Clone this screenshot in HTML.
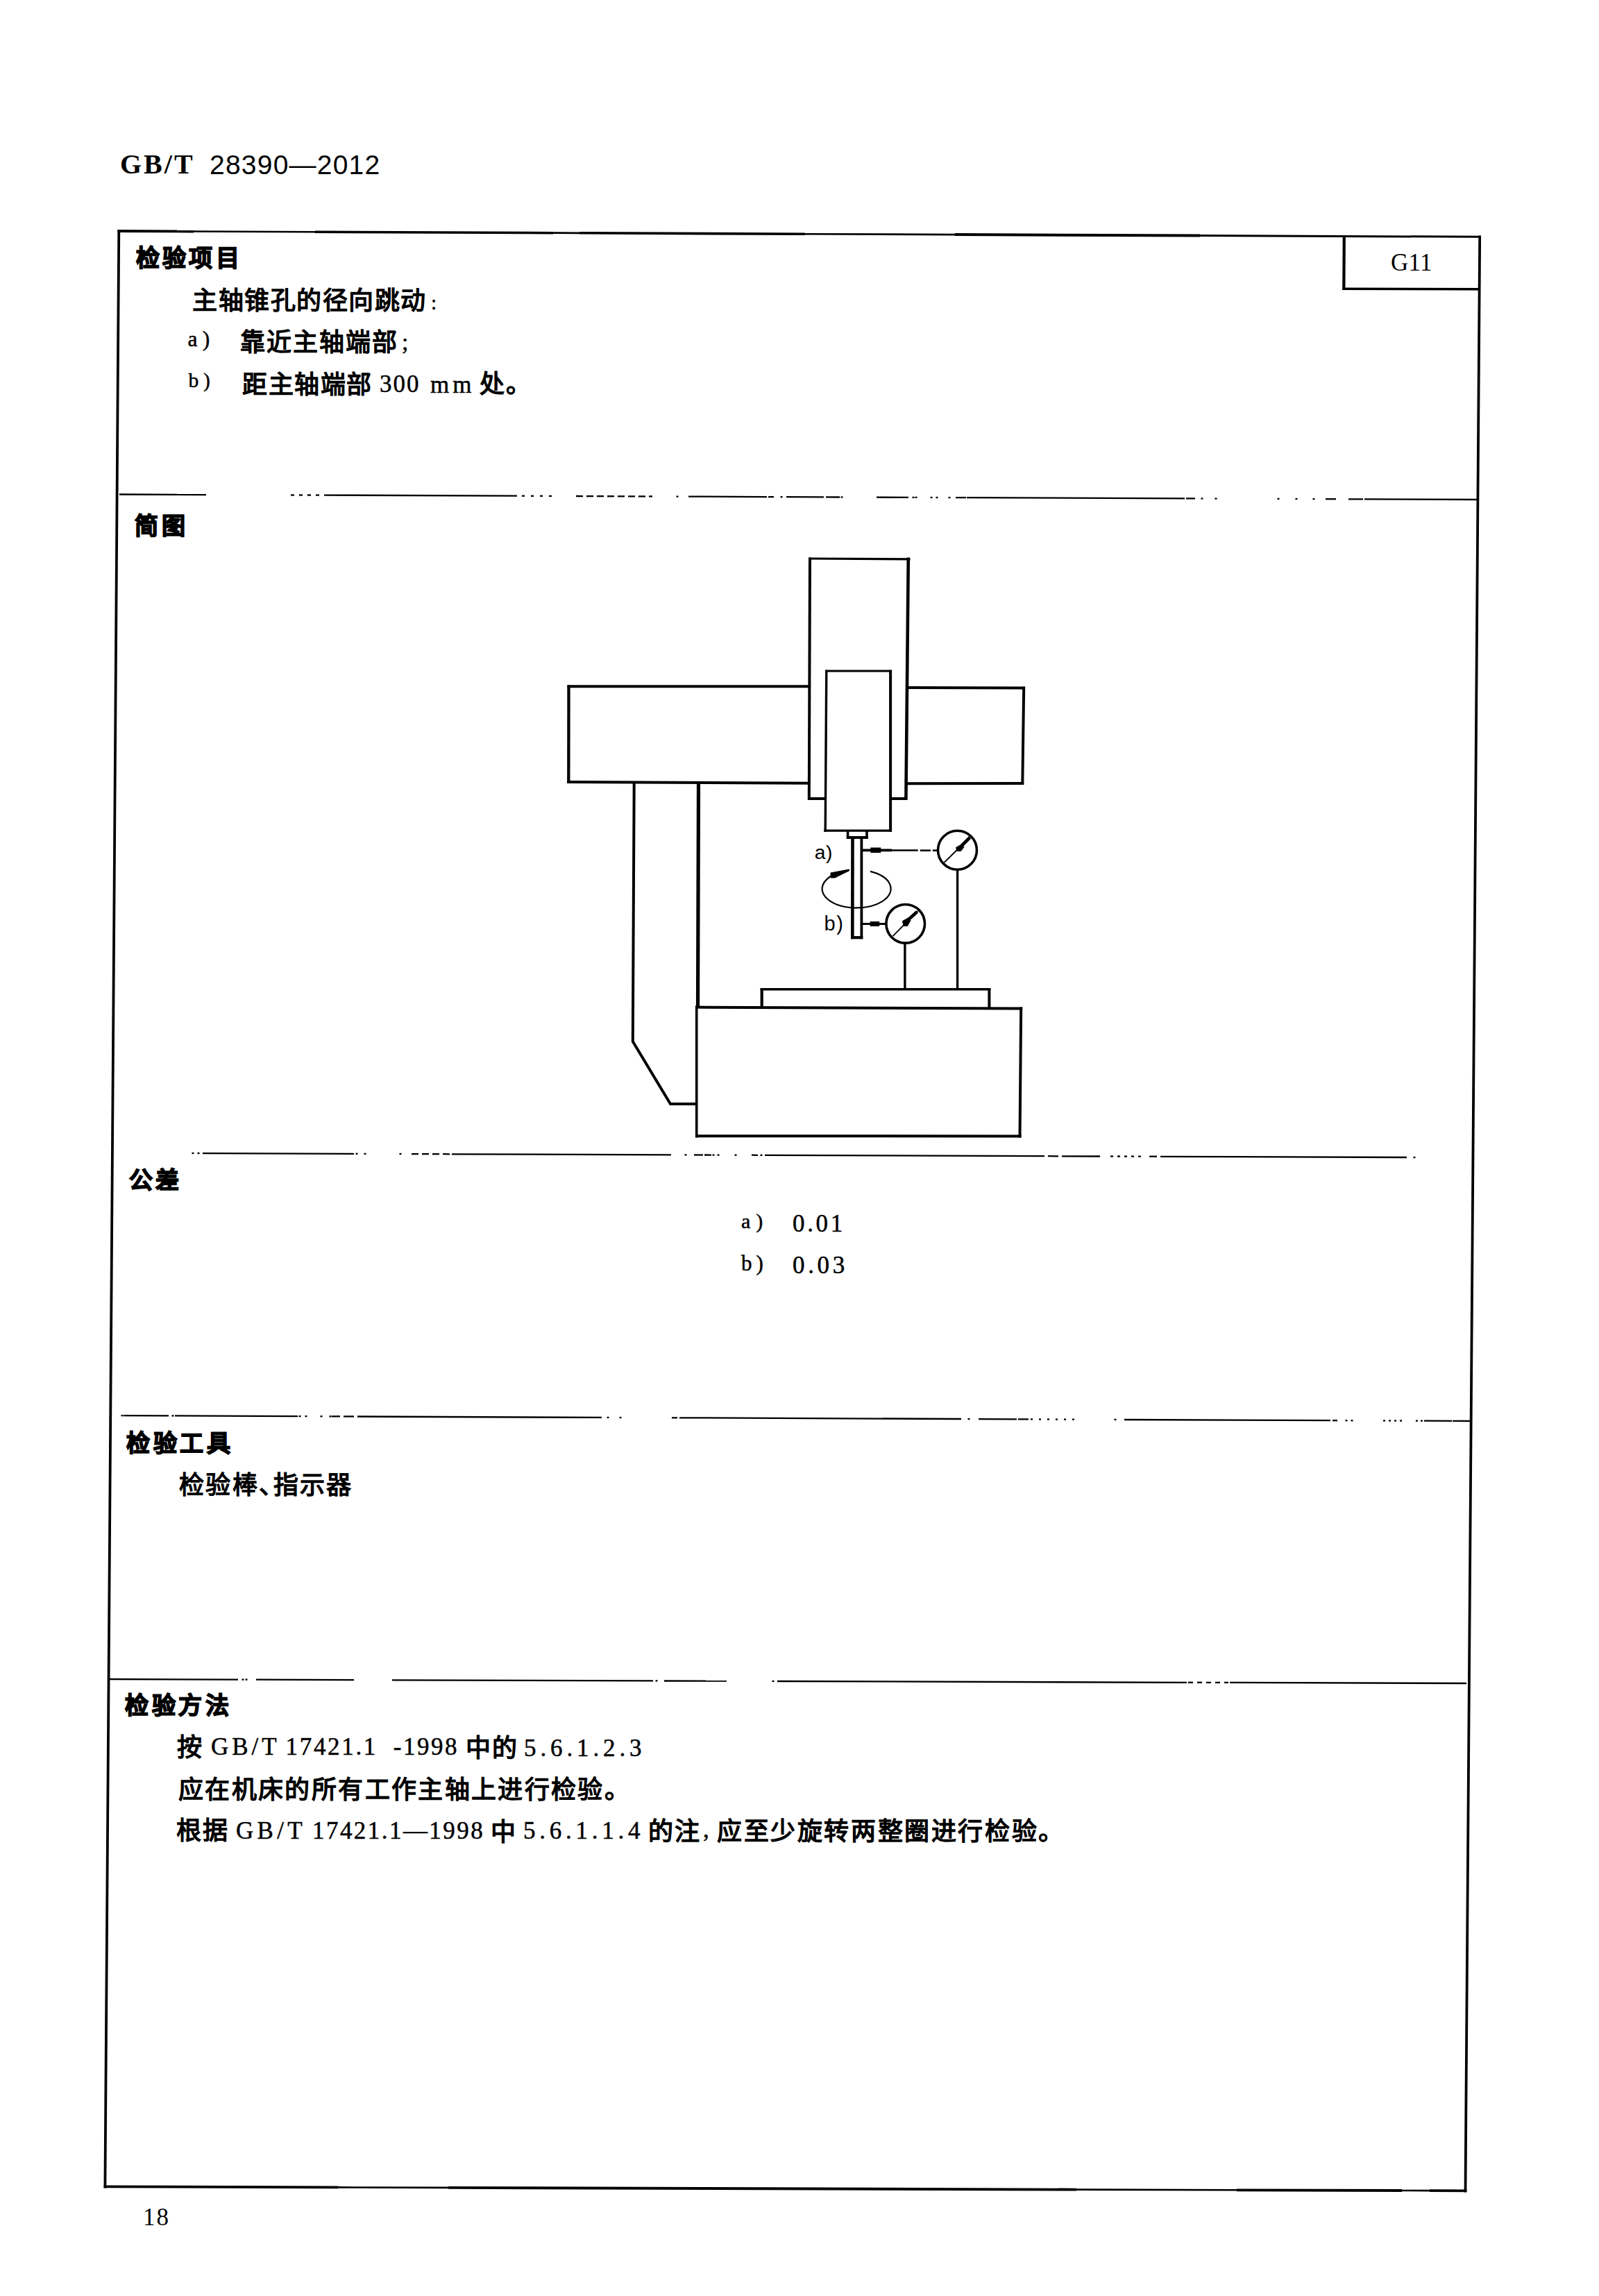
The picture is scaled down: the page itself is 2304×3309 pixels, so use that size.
<!DOCTYPE html>
<html lang="zh-CN"><head><meta charset="utf-8">
<style>
html,body{margin:0;padding:0;background:#fff;}
body{width:2304px;height:3309px;position:relative;overflow:hidden;}
svg{position:absolute;left:0;top:0;}
svg line, svg polyline, svg polygon, svg circle, svg path{stroke:#000;}
.t{position:absolute;white-space:nowrap;color:#000;line-height:1;}
.hb{font-family:"Liberation Serif",serif;font-weight:bold;font-size:40px;}
.hs{font-family:"Liberation Sans",sans-serif;font-size:39px;}
.lr{font-family:"Liberation Serif",serif;font-size:35px;}
.lb{font-family:"Liberation Serif",serif;font-size:35px;-webkit-text-stroke:0.5px #000;}
.ds{font-family:"Liberation Sans",sans-serif;font-size:25px;}
.kb{font-family:"Liberation Sans",sans-serif;font-weight:bold;font-size:34px;-webkit-text-stroke:1.6px #000;}
.ks{font-family:"Liberation Sans",sans-serif;font-size:36px;-webkit-text-stroke:1.4px #000;}
i{font-style:normal;display:inline-block;}
</style></head><body>
<svg width="2304" height="3309" viewBox="0 0 2304 3309">
<line x1="169.5" y1="333.0" x2="279.0" y2="333.5" stroke-width="3.8" stroke-linecap="butt"/>
<line x1="279.0" y1="333.5" x2="454.0" y2="334.2" stroke-width="2.6" stroke-linecap="butt"/>
<line x1="454.0" y1="334.2" x2="797.0" y2="335.7" stroke-width="3.6" stroke-linecap="butt"/>
<line x1="797.0" y1="335.7" x2="835.0" y2="335.8" stroke-width="2.8" stroke-linecap="butt"/>
<line x1="835.0" y1="335.8" x2="1160.0" y2="337.2" stroke-width="3.6" stroke-linecap="butt"/>
<line x1="1160.0" y1="337.2" x2="1376.0" y2="338.1" stroke-width="2.6" stroke-linecap="butt"/>
<line x1="1376.0" y1="338.1" x2="1729.0" y2="339.6" stroke-width="4.0" stroke-linecap="butt"/>
<line x1="1729.0" y1="339.6" x2="2133.4" y2="341.3" stroke-width="3.0" stroke-linecap="butt"/>
<line x1="171.3" y1="331.0" x2="151.4" y2="3153.4" stroke-width="3.8" stroke-linecap="butt"/>
<line x1="2132.2" y1="339.5" x2="2111.5" y2="3159.4" stroke-width="3.8" stroke-linecap="butt"/>
<line x1="149.7" y1="3151.4" x2="487.0" y2="3152.4" stroke-width="3.8" stroke-linecap="butt"/>
<line x1="487.0" y1="3152.4" x2="646.0" y2="3152.9" stroke-width="2.6" stroke-linecap="butt"/>
<line x1="646.0" y1="3152.9" x2="1551.0" y2="3155.6" stroke-width="3.8" stroke-linecap="butt"/>
<line x1="1551.0" y1="3155.6" x2="1782.0" y2="3156.3" stroke-width="2.6" stroke-linecap="butt"/>
<line x1="1782.0" y1="3156.3" x2="2020.0" y2="3157.0" stroke-width="3.8" stroke-linecap="butt"/>
<line x1="2020.0" y1="3157.0" x2="2060.0" y2="3157.1" stroke-width="2.6" stroke-linecap="butt"/>
<line x1="2060.0" y1="3157.1" x2="2113.4" y2="3157.3" stroke-width="3.8" stroke-linecap="butt"/>
<line x1="1936.8" y1="341.0" x2="1936.3" y2="418.0" stroke-width="4.2" stroke-linecap="butt"/>
<line x1="1934.4" y1="416.3" x2="2132.0" y2="416.8" stroke-width="3.4" stroke-linecap="butt"/>
<line x1="172.0" y1="712.5" x2="297.0" y2="713.0" stroke-width="2.3" stroke-linecap="butt"/>
<line x1="467.0" y1="713.6" x2="745.0" y2="714.7" stroke-width="2.3" stroke-linecap="butt"/>
<line x1="992.0" y1="715.6" x2="1105.0" y2="716.1" stroke-width="2.3" stroke-linecap="butt"/>
<line x1="1107.0" y1="716.1" x2="1115.0" y2="716.1" stroke-width="2.3" stroke-linecap="butt"/>
<line x1="1133.0" y1="716.2" x2="1187.0" y2="716.4" stroke-width="2.3" stroke-linecap="butt"/>
<line x1="1190.0" y1="716.4" x2="1210.0" y2="716.5" stroke-width="2.3" stroke-linecap="butt"/>
<line x1="1263.0" y1="716.7" x2="1309.0" y2="716.9" stroke-width="2.3" stroke-linecap="butt"/>
<line x1="1377.0" y1="717.1" x2="1392.0" y2="717.2" stroke-width="2.3" stroke-linecap="butt"/>
<line x1="1393.0" y1="717.2" x2="1707.0" y2="718.4" stroke-width="2.3" stroke-linecap="butt"/>
<line x1="1709.0" y1="718.4" x2="1722.0" y2="718.4" stroke-width="2.3" stroke-linecap="butt"/>
<line x1="1910.0" y1="719.2" x2="1925.0" y2="719.2" stroke-width="2.3" stroke-linecap="butt"/>
<line x1="1943.0" y1="719.3" x2="1964.0" y2="719.4" stroke-width="2.3" stroke-linecap="butt"/>
<line x1="1966.0" y1="719.4" x2="2130.0" y2="720.0" stroke-width="2.3" stroke-linecap="butt"/>
<line x1="974.5" y1="715.6" x2="977.5" y2="715.6" stroke-width="2.3" stroke-linecap="butt"/>
<line x1="1124.5" y1="716.2" x2="1127.5" y2="716.2" stroke-width="2.3" stroke-linecap="butt"/>
<line x1="1211.5" y1="716.5" x2="1214.5" y2="716.5" stroke-width="2.3" stroke-linecap="butt"/>
<line x1="1314.5" y1="716.9" x2="1317.5" y2="716.9" stroke-width="2.3" stroke-linecap="butt"/>
<line x1="1318.5" y1="716.9" x2="1321.5" y2="716.9" stroke-width="2.3" stroke-linecap="butt"/>
<line x1="1340.5" y1="717.0" x2="1343.5" y2="717.0" stroke-width="2.3" stroke-linecap="butt"/>
<line x1="1348.5" y1="717.0" x2="1351.5" y2="717.0" stroke-width="2.3" stroke-linecap="butt"/>
<line x1="1366.5" y1="717.1" x2="1369.5" y2="717.1" stroke-width="2.3" stroke-linecap="butt"/>
<line x1="1730.5" y1="718.5" x2="1733.5" y2="718.5" stroke-width="2.3" stroke-linecap="butt"/>
<line x1="1750.5" y1="718.6" x2="1753.5" y2="718.6" stroke-width="2.3" stroke-linecap="butt"/>
<line x1="1840.5" y1="718.9" x2="1843.5" y2="718.9" stroke-width="2.3" stroke-linecap="butt"/>
<line x1="1866.5" y1="719.0" x2="1869.5" y2="719.0" stroke-width="2.3" stroke-linecap="butt"/>
<line x1="1891.5" y1="719.1" x2="1894.5" y2="719.1" stroke-width="2.3" stroke-linecap="butt"/>
<line x1="419.0" y1="713.5" x2="424.0" y2="713.5" stroke-width="2.3" stroke-linecap="butt"/>
<line x1="431.0" y1="713.5" x2="436.0" y2="713.5" stroke-width="2.3" stroke-linecap="butt"/>
<line x1="443.0" y1="713.5" x2="448.0" y2="713.6" stroke-width="2.3" stroke-linecap="butt"/>
<line x1="455.0" y1="713.6" x2="460.0" y2="713.6" stroke-width="2.3" stroke-linecap="butt"/>
<line x1="752.0" y1="714.7" x2="756.0" y2="714.7" stroke-width="2.3" stroke-linecap="butt"/>
<line x1="765.0" y1="714.8" x2="769.0" y2="714.8" stroke-width="2.3" stroke-linecap="butt"/>
<line x1="778.0" y1="714.8" x2="782.0" y2="714.8" stroke-width="2.3" stroke-linecap="butt"/>
<line x1="791.0" y1="714.9" x2="795.0" y2="714.9" stroke-width="2.3" stroke-linecap="butt"/>
<line x1="830.0" y1="715.0" x2="840.0" y2="715.1" stroke-width="2.3" stroke-linecap="butt"/>
<line x1="845.0" y1="715.1" x2="855.0" y2="715.1" stroke-width="2.3" stroke-linecap="butt"/>
<line x1="860.0" y1="715.1" x2="870.0" y2="715.2" stroke-width="2.3" stroke-linecap="butt"/>
<line x1="875.0" y1="715.2" x2="885.0" y2="715.2" stroke-width="2.3" stroke-linecap="butt"/>
<line x1="890.0" y1="715.3" x2="900.0" y2="715.3" stroke-width="2.3" stroke-linecap="butt"/>
<line x1="905.0" y1="715.3" x2="915.0" y2="715.4" stroke-width="2.3" stroke-linecap="butt"/>
<line x1="920.0" y1="715.4" x2="930.0" y2="715.4" stroke-width="2.3" stroke-linecap="butt"/>
<line x1="935.0" y1="715.4" x2="940.0" y2="715.4" stroke-width="2.3" stroke-linecap="butt"/>
<line x1="292.0" y1="1662.1" x2="510.0" y2="1662.8" stroke-width="2.3" stroke-linecap="butt"/>
<line x1="651.0" y1="1663.3" x2="967.0" y2="1664.4" stroke-width="2.3" stroke-linecap="butt"/>
<line x1="1000.0" y1="1664.5" x2="1013.0" y2="1664.5" stroke-width="2.3" stroke-linecap="butt"/>
<line x1="1015.0" y1="1664.5" x2="1025.0" y2="1664.6" stroke-width="2.3" stroke-linecap="butt"/>
<line x1="1083.0" y1="1664.7" x2="1092.0" y2="1664.8" stroke-width="2.3" stroke-linecap="butt"/>
<line x1="1102.0" y1="1664.8" x2="1505.0" y2="1666.2" stroke-width="2.3" stroke-linecap="butt"/>
<line x1="1510.0" y1="1666.2" x2="1525.0" y2="1666.3" stroke-width="2.3" stroke-linecap="butt"/>
<line x1="1530.0" y1="1666.3" x2="1585.0" y2="1666.5" stroke-width="2.3" stroke-linecap="butt"/>
<line x1="1656.0" y1="1666.7" x2="1667.0" y2="1666.7" stroke-width="2.3" stroke-linecap="butt"/>
<line x1="1672.0" y1="1666.8" x2="2027.0" y2="1668.0" stroke-width="2.3" stroke-linecap="butt"/>
<line x1="276.5" y1="1662.0" x2="279.5" y2="1662.0" stroke-width="2.3" stroke-linecap="butt"/>
<line x1="284.5" y1="1662.0" x2="287.5" y2="1662.0" stroke-width="2.3" stroke-linecap="butt"/>
<line x1="512.5" y1="1662.8" x2="515.5" y2="1662.8" stroke-width="2.3" stroke-linecap="butt"/>
<line x1="524.5" y1="1662.9" x2="527.5" y2="1662.9" stroke-width="2.3" stroke-linecap="butt"/>
<line x1="575.5" y1="1663.0" x2="578.5" y2="1663.0" stroke-width="2.3" stroke-linecap="butt"/>
<line x1="986.5" y1="1664.4" x2="989.5" y2="1664.4" stroke-width="2.3" stroke-linecap="butt"/>
<line x1="1026.5" y1="1664.6" x2="1029.5" y2="1664.6" stroke-width="2.3" stroke-linecap="butt"/>
<line x1="1033.5" y1="1664.6" x2="1036.5" y2="1664.6" stroke-width="2.3" stroke-linecap="butt"/>
<line x1="1095.5" y1="1664.8" x2="1098.5" y2="1664.8" stroke-width="2.3" stroke-linecap="butt"/>
<line x1="1058.5" y1="1664.7" x2="1061.5" y2="1664.7" stroke-width="2.3" stroke-linecap="butt"/>
<line x1="2036.5" y1="1668.0" x2="2039.5" y2="1668.0" stroke-width="2.3" stroke-linecap="butt"/>
<line x1="593.0" y1="1663.1" x2="603.0" y2="1663.1" stroke-width="2.3" stroke-linecap="butt"/>
<line x1="608.0" y1="1663.1" x2="618.0" y2="1663.2" stroke-width="2.3" stroke-linecap="butt"/>
<line x1="623.0" y1="1663.2" x2="633.0" y2="1663.2" stroke-width="2.3" stroke-linecap="butt"/>
<line x1="638.0" y1="1663.2" x2="648.0" y2="1663.3" stroke-width="2.3" stroke-linecap="butt"/>
<line x1="1600.0" y1="1666.5" x2="1604.0" y2="1666.5" stroke-width="2.3" stroke-linecap="butt"/>
<line x1="1610.0" y1="1666.5" x2="1614.0" y2="1666.6" stroke-width="2.3" stroke-linecap="butt"/>
<line x1="1620.0" y1="1666.6" x2="1624.0" y2="1666.6" stroke-width="2.3" stroke-linecap="butt"/>
<line x1="1630.0" y1="1666.6" x2="1634.0" y2="1666.6" stroke-width="2.3" stroke-linecap="butt"/>
<line x1="1640.0" y1="1666.6" x2="1644.0" y2="1666.7" stroke-width="2.3" stroke-linecap="butt"/>
<line x1="178.0" y1="2040.1" x2="243.0" y2="2040.3" stroke-width="2.3" stroke-linecap="butt"/>
<line x1="252.0" y1="2040.4" x2="429.0" y2="2041.1" stroke-width="2.3" stroke-linecap="butt"/>
<line x1="478.0" y1="2041.3" x2="490.0" y2="2041.3" stroke-width="2.3" stroke-linecap="butt"/>
<line x1="495.0" y1="2041.4" x2="510.0" y2="2041.4" stroke-width="2.3" stroke-linecap="butt"/>
<line x1="515.0" y1="2041.5" x2="867.0" y2="2042.9" stroke-width="2.3" stroke-linecap="butt"/>
<line x1="968.0" y1="2043.3" x2="976.0" y2="2043.3" stroke-width="2.3" stroke-linecap="butt"/>
<line x1="979.0" y1="2043.3" x2="1385.0" y2="2045.0" stroke-width="2.3" stroke-linecap="butt"/>
<line x1="1410.0" y1="2045.1" x2="1465.0" y2="2045.3" stroke-width="2.3" stroke-linecap="butt"/>
<line x1="1467.0" y1="2045.3" x2="1482.0" y2="2045.4" stroke-width="2.3" stroke-linecap="butt"/>
<line x1="1620.0" y1="2046.0" x2="1917.0" y2="2047.2" stroke-width="2.3" stroke-linecap="butt"/>
<line x1="1920.0" y1="2047.2" x2="1927.0" y2="2047.2" stroke-width="2.3" stroke-linecap="butt"/>
<line x1="2052.0" y1="2047.7" x2="2092.0" y2="2047.9" stroke-width="2.3" stroke-linecap="butt"/>
<line x1="2093.0" y1="2047.9" x2="2118.0" y2="2048.0" stroke-width="2.3" stroke-linecap="butt"/>
<line x1="174.5" y1="2040.1" x2="177.5" y2="2040.1" stroke-width="2.3" stroke-linecap="butt"/>
<line x1="247.5" y1="2040.4" x2="250.5" y2="2040.4" stroke-width="2.3" stroke-linecap="butt"/>
<line x1="430.5" y1="2041.1" x2="433.5" y2="2041.1" stroke-width="2.3" stroke-linecap="butt"/>
<line x1="439.5" y1="2041.1" x2="442.5" y2="2041.1" stroke-width="2.3" stroke-linecap="butt"/>
<line x1="461.5" y1="2041.2" x2="464.5" y2="2041.2" stroke-width="2.3" stroke-linecap="butt"/>
<line x1="474.5" y1="2041.3" x2="477.5" y2="2041.3" stroke-width="2.3" stroke-linecap="butt"/>
<line x1="874.5" y1="2042.9" x2="877.5" y2="2042.9" stroke-width="2.3" stroke-linecap="butt"/>
<line x1="892.5" y1="2043.0" x2="895.5" y2="2043.0" stroke-width="2.3" stroke-linecap="butt"/>
<line x1="1394.5" y1="2045.1" x2="1397.5" y2="2045.1" stroke-width="2.3" stroke-linecap="butt"/>
<line x1="1605.5" y1="2045.9" x2="1608.5" y2="2045.9" stroke-width="2.3" stroke-linecap="butt"/>
<line x1="1938.5" y1="2047.3" x2="1941.5" y2="2047.3" stroke-width="2.3" stroke-linecap="butt"/>
<line x1="1946.5" y1="2047.3" x2="1949.5" y2="2047.3" stroke-width="2.3" stroke-linecap="butt"/>
<line x1="1485.0" y1="2045.4" x2="1488.0" y2="2045.4" stroke-width="2.3" stroke-linecap="butt"/>
<line x1="1497.0" y1="2045.5" x2="1500.0" y2="2045.5" stroke-width="2.3" stroke-linecap="butt"/>
<line x1="1509.0" y1="2045.5" x2="1512.0" y2="2045.5" stroke-width="2.3" stroke-linecap="butt"/>
<line x1="1521.0" y1="2045.6" x2="1524.0" y2="2045.6" stroke-width="2.3" stroke-linecap="butt"/>
<line x1="1533.0" y1="2045.6" x2="1536.0" y2="2045.6" stroke-width="2.3" stroke-linecap="butt"/>
<line x1="1545.0" y1="2045.7" x2="1548.0" y2="2045.7" stroke-width="2.3" stroke-linecap="butt"/>
<line x1="1993.0" y1="2047.5" x2="1996.0" y2="2047.5" stroke-width="2.3" stroke-linecap="butt"/>
<line x1="2001.0" y1="2047.5" x2="2004.0" y2="2047.5" stroke-width="2.3" stroke-linecap="butt"/>
<line x1="2009.0" y1="2047.6" x2="2012.0" y2="2047.6" stroke-width="2.3" stroke-linecap="butt"/>
<line x1="2017.0" y1="2047.6" x2="2020.0" y2="2047.6" stroke-width="2.3" stroke-linecap="butt"/>
<line x1="2040.0" y1="2047.7" x2="2043.0" y2="2047.7" stroke-width="2.3" stroke-linecap="butt"/>
<line x1="2047.0" y1="2047.7" x2="2050.0" y2="2047.7" stroke-width="2.3" stroke-linecap="butt"/>
<line x1="156.0" y1="2420.0" x2="343.0" y2="2420.6" stroke-width="2.3" stroke-linecap="butt"/>
<line x1="369.0" y1="2420.6" x2="510.0" y2="2421.1" stroke-width="2.3" stroke-linecap="butt"/>
<line x1="565.0" y1="2421.3" x2="941.0" y2="2422.4" stroke-width="2.3" stroke-linecap="butt"/>
<line x1="957.0" y1="2422.5" x2="1047.0" y2="2422.7" stroke-width="2.3" stroke-linecap="butt"/>
<line x1="1120.0" y1="2423.0" x2="1710.0" y2="2424.8" stroke-width="2.3" stroke-linecap="butt"/>
<line x1="1772.0" y1="2424.9" x2="2113.0" y2="2426.0" stroke-width="2.3" stroke-linecap="butt"/>
<line x1="348.5" y1="2420.6" x2="351.5" y2="2420.6" stroke-width="2.3" stroke-linecap="butt"/>
<line x1="353.5" y1="2420.6" x2="356.5" y2="2420.6" stroke-width="2.3" stroke-linecap="butt"/>
<line x1="944.5" y1="2422.4" x2="947.5" y2="2422.4" stroke-width="2.3" stroke-linecap="butt"/>
<line x1="1112.5" y1="2422.9" x2="1115.5" y2="2422.9" stroke-width="2.3" stroke-linecap="butt"/>
<line x1="1712.0" y1="2424.8" x2="1719.0" y2="2424.8" stroke-width="2.3" stroke-linecap="butt"/>
<line x1="1725.0" y1="2424.8" x2="1732.0" y2="2424.8" stroke-width="2.3" stroke-linecap="butt"/>
<line x1="1738.0" y1="2424.8" x2="1745.0" y2="2424.9" stroke-width="2.3" stroke-linecap="butt"/>
<line x1="1751.0" y1="2424.9" x2="1758.0" y2="2424.9" stroke-width="2.3" stroke-linecap="butt"/>
<line x1="1764.0" y1="2424.9" x2="1770.0" y2="2424.9" stroke-width="2.3" stroke-linecap="butt"/>
<line x1="1167.0" y1="803.5" x2="1165.8" y2="1153.0" stroke-width="4.0" stroke-linecap="butt"/>
<line x1="1308.8" y1="803.5" x2="1305.4" y2="1153.0" stroke-width="4.6" stroke-linecap="butt"/>
<line x1="1165.0" y1="805.0" x2="1311.5" y2="805.8" stroke-width="3.2" stroke-linecap="butt"/>
<line x1="1164.0" y1="1151.0" x2="1190.0" y2="1151.0" stroke-width="4.0" stroke-linecap="butt"/>
<line x1="1284.0" y1="1151.0" x2="1307.0" y2="1151.0" stroke-width="4.0" stroke-linecap="butt"/>
<line x1="817.5" y1="989.3" x2="1167.0" y2="989.3" stroke-width="4.0" stroke-linecap="butt"/>
<line x1="819.5" y1="987.5" x2="819.3" y2="1128.8" stroke-width="4.3" stroke-linecap="butt"/>
<line x1="817.3" y1="1127.0" x2="1166.0" y2="1128.8" stroke-width="4.0" stroke-linecap="butt"/>
<line x1="1307.0" y1="991.0" x2="1477.0" y2="991.4" stroke-width="4.0" stroke-linecap="butt"/>
<line x1="1475.2" y1="989.6" x2="1473.3" y2="1130.7" stroke-width="4.0" stroke-linecap="butt"/>
<line x1="1306.0" y1="1129.3" x2="1475.2" y2="1129.0" stroke-width="4.0" stroke-linecap="butt"/>
<line x1="1190.8" y1="965.8" x2="1189.2" y2="1198.8" stroke-width="3.4" stroke-linecap="butt"/>
<line x1="1283.1" y1="965.8" x2="1283.1" y2="1198.8" stroke-width="4.0" stroke-linecap="butt"/>
<line x1="1189.0" y1="967.0" x2="1285.1" y2="967.0" stroke-width="2.8" stroke-linecap="butt"/>
<line x1="1187.2" y1="1197.1" x2="1285.1" y2="1197.1" stroke-width="3.4" stroke-linecap="butt"/>
<line x1="1221.6" y1="1197.0" x2="1221.6" y2="1209.0" stroke-width="3.6" stroke-linecap="butt"/>
<line x1="1249.0" y1="1197.0" x2="1249.0" y2="1209.0" stroke-width="3.6" stroke-linecap="butt"/>
<line x1="1219.8" y1="1207.0" x2="1250.8" y2="1207.0" stroke-width="4.0" stroke-linecap="butt"/>
<line x1="1228.5" y1="1209.0" x2="1228.3" y2="1353.3" stroke-width="4.6" stroke-linecap="butt"/>
<line x1="1241.4" y1="1209.0" x2="1241.4" y2="1353.3" stroke-width="3.8" stroke-linecap="butt"/>
<line x1="1226.0" y1="1351.2" x2="1243.3" y2="1351.2" stroke-width="4.2" stroke-linecap="butt"/>
<polyline points="913.7,1127.0 911.8,1501.0 966.0,1591.0 1004.0,1591.0" stroke-width="4.0" fill="none"/>
<line x1="1006.5" y1="1127.0" x2="1005.5" y2="1452.0" stroke-width="5.2" stroke-linecap="butt"/>
<line x1="1003.7" y1="1449.6" x2="1003.7" y2="1639.4" stroke-width="3.6" stroke-linecap="butt"/>
<line x1="1002.0" y1="1451.6" x2="1473.2" y2="1453.5" stroke-width="4.0" stroke-linecap="butt"/>
<line x1="1471.2" y1="1451.5" x2="1469.5" y2="1639.5" stroke-width="4.0" stroke-linecap="butt"/>
<line x1="1002.0" y1="1637.2" x2="1471.5" y2="1637.5" stroke-width="4.0" stroke-linecap="butt"/>
<line x1="1097.7" y1="1424.0" x2="1097.7" y2="1452.0" stroke-width="4.2" stroke-linecap="butt"/>
<line x1="1095.6" y1="1425.8" x2="1427.4" y2="1425.7" stroke-width="3.6" stroke-linecap="butt"/>
<line x1="1425.4" y1="1424.0" x2="1425.4" y2="1452.0" stroke-width="4.0" stroke-linecap="butt"/>
<circle cx="1379.5" cy="1225.2" r="28.0" stroke-width="3.6" fill="none"/>
<line x1="1360.6" y1="1243.0" x2="1398.0" y2="1206.0" stroke-width="1.8" stroke-linecap="butt"/>
<line x1="1382.0" y1="1222.5" x2="1397.5" y2="1207.0" stroke-width="4.6" stroke-linecap="butt"/>
<polygon points="1377.5,1221.5 1385.5,1217.0 1389.0,1220.5 1384.5,1226.5 1379.0,1226.5" stroke="none" fill="#000"/>
<line x1="1243.0" y1="1225.3" x2="1285.0" y2="1225.3" stroke-width="3.8" stroke-linecap="butt"/>
<line x1="1285.0" y1="1225.5" x2="1322.7" y2="1225.5" stroke-width="2.6" stroke-linecap="butt"/>
<line x1="1325.7" y1="1225.7" x2="1341.0" y2="1225.7" stroke-width="2.6" stroke-linecap="butt"/>
<line x1="1343.8" y1="1225.7" x2="1351.0" y2="1225.7" stroke-width="2.6" stroke-linecap="butt"/>
<rect x="1254.3" y="1221.5" width="15.0" height="7.5" stroke="none" fill="#000"/>
<line x1="1379.6" y1="1253.0" x2="1379.6" y2="1426.0" stroke-width="3.3" stroke-linecap="butt"/>
<circle cx="1304.7" cy="1331.3" r="27.8" stroke-width="3.6" fill="none"/>
<line x1="1286.4" y1="1349.2" x2="1322.5" y2="1313.0" stroke-width="1.8" stroke-linecap="butt"/>
<line x1="1306.0" y1="1328.0" x2="1321.5" y2="1314.0" stroke-width="4.6" stroke-linecap="butt"/>
<polygon points="1300.5,1327.5 1308.5,1323.0 1312.0,1326.5 1307.5,1334.5 1302.0,1334.5" stroke="none" fill="#000"/>
<line x1="1243.0" y1="1331.5" x2="1276.0" y2="1331.5" stroke-width="2.8" stroke-linecap="butt"/>
<rect x="1253.7" y="1328.0" width="13.5" height="7.0" stroke="none" fill="#000"/>
<line x1="1303.9" y1="1359.0" x2="1303.9" y2="1426.0" stroke-width="3.4" stroke-linecap="butt"/>
<path d="M 1254 1255.9 A 49.5 27.4 0 1 1 1223 1254.3" stroke-width="2.2" fill="none"/>
<polygon points="1197.0,1258.0 1223.5,1253.0 1223.5,1255.0 1217.0,1258.0 1203.0,1265.0 1197.0,1265.0" stroke="none" fill="#000"/>
</svg>
<div id="hd1" class="t hb" style="left:173.0px;top:217.0px;letter-spacing:3.00px;">GB/T</div><div id="hd2" class="t hs" style="left:302.0px;top:218.0px;letter-spacing:1.22px;">28390—2012</div><div id="g11" class="t lr" style="left:2004.0px;top:360.8px;letter-spacing:0.25px;">G11</div><div id="pg" class="t lr" style="left:206.0px;top:3178.0px;letter-spacing:2.00px;">18</div><div id="h1" class="t kb" style="left:195.8px;top:354.8px;"><i style="width:38.3px">检</i><i style="width:38.3px">验</i><i style="width:38.3px">项</i><i style="width:38.3px">目</i></div><div id="s1" class="t ks" style="left:277.0px;top:415.5px;"><i style="width:37.5px">主</i><i style="width:37.5px">轴</i><i style="width:37.5px">锥</i><i style="width:37.5px">孔</i><i style="width:37.5px">的</i><i style="width:37.5px">径</i><i style="width:37.5px">向</i><i style="width:37.5px">跳</i><i style="width:37.5px">动</i></div><div id="s1c" class="t lb" style="left:621.0px;top:422.0px;font-size:29.4px;">:</div><div id="s2a" class="t lb" style="left:270.5px;top:473.4px;letter-spacing:7.20px;font-size:31.6px;">a)</div><div id="s2" class="t ks" style="left:345.5px;top:476.0px;"><i style="width:38.2px">靠</i><i style="width:38.2px">近</i><i style="width:38.2px">主</i><i style="width:38.2px">轴</i><i style="width:38.2px">端</i><i style="width:38.2px">部</i></div><div id="s2c" class="t lb" style="left:579.0px;top:476.0px;font-size:33.4px;">;</div><div id="s3a" class="t lb" style="left:271.5px;top:534.1px;letter-spacing:6.60px;font-size:29.6px;">b)</div><div id="s3" class="t ks" style="left:349.0px;top:537.0px;"><i style="width:37.6px">距</i><i style="width:37.6px">主</i><i style="width:37.6px">轴</i><i style="width:37.6px">端</i><i style="width:37.6px">部</i></div><div id="s3n" class="t lb" style="left:547.0px;top:536.0px;letter-spacing:2.00px;">300</div><div id="s3m" class="t lb" style="left:620.0px;top:537.0px;letter-spacing:5.00px;">mm</div><div id="s3e" class="t ks" style="left:691.0px;top:536.0px;"><i style="width:38px">处</i><i style="width:38px">。</i></div><div id="h2" class="t kb" style="left:194.4px;top:741.0px;"><i style="width:38.3px">简</i><i style="width:38.3px">图</i></div><div id="da" class="t ds" style="left:1173.7px;top:1213.6px;letter-spacing:0.60px;font-size:28.2px;">a)</div><div id="db" class="t ds" style="left:1187.4px;top:1316.6px;letter-spacing:1.65px;font-size:29.1px;">b)</div><div id="h3" class="t kb" style="left:186.2px;top:1683.8px;"><i style="width:38.3px">公</i><i style="width:38.3px">差</i></div><div id="t1a" class="t lb" style="left:1068.0px;top:1745.0px;letter-spacing:8.00px;font-size:30.1px;">a)</div><div id="t1n" class="t lb" style="left:1142.0px;top:1746.0px;letter-spacing:3.67px;">0.01</div><div id="t2a" class="t lb" style="left:1068.0px;top:1805.0px;letter-spacing:6.00px;font-size:31.0px;">b)</div><div id="t2n" class="t lb" style="left:1142.0px;top:1806.0px;letter-spacing:4.67px;">0.03</div><div id="h4" class="t kb" style="left:182.0px;top:2063.0px;"><i style="width:38.5px">检</i><i style="width:38.5px">验</i><i style="width:38.5px">工</i><i style="width:38.5px">具</i></div><div id="s4" class="t ks" style="left:258.0px;top:2123.0px;"><i style="width:38.3px">检</i><i style="width:38.3px">验</i><i style="width:38.3px">棒</i><i style="width:21px">、</i><i style="width:38.3px">指</i><i style="width:38.3px">示</i><i style="width:38.3px">器</i></div><div id="h5" class="t kb" style="left:180.2px;top:2440.8px;"><i style="width:38.5px">检</i><i style="width:38.5px">验</i><i style="width:38.5px">方</i><i style="width:38.5px">法</i></div><div id="m1a" class="t ks" style="left:254.7px;top:2501.3px;"><i style="width:38.3px">按</i></div><div id="m1b" class="t lb" style="left:304.0px;top:2500.0px;letter-spacing:5.00px;">GB/T</div><div id="m1c" class="t lb" style="left:411.6px;top:2500.0px;letter-spacing:2.67px;">17421.1</div><div id="m1d" class="t lb" style="left:566.8px;top:2500.0px;letter-spacing:2.50px;">-1998</div><div id="m1e" class="t ks" style="left:670.5px;top:2502.0px;"><i style="width:38.3px">中</i><i style="width:38.3px">的</i></div><div id="m1f" class="t lb" style="left:755.0px;top:2502.0px;letter-spacing:5.88px;">5.6.1.2.3</div><div id="m2" class="t ks" style="left:257.0px;top:2562.0px;"><i style="width:38.36px">应</i><i style="width:38.36px">在</i><i style="width:38.36px">机</i><i style="width:38.36px">床</i><i style="width:38.36px">的</i><i style="width:38.36px">所</i><i style="width:38.36px">有</i><i style="width:38.36px">工</i><i style="width:38.36px">作</i><i style="width:38.36px">主</i><i style="width:38.36px">轴</i><i style="width:38.36px">上</i><i style="width:38.36px">进</i><i style="width:38.36px">行</i><i style="width:38.36px">检</i><i style="width:38.36px">验</i><i style="width:38.36px">。</i></div><div id="m3a" class="t ks" style="left:254.0px;top:2621.0px;"><i style="width:38.3px">根</i><i style="width:38.3px">据</i></div><div id="m3b" class="t lb" style="left:340.0px;top:2621.0px;letter-spacing:5.33px;">GB/T</div><div id="m3c" class="t lb" style="left:450.0px;top:2621.0px;letter-spacing:2.45px;">17421.1—1998</div><div id="m3d" class="t ks" style="left:707.0px;top:2623.0px;"><i style="width:38.3px">中</i></div><div id="m3e" class="t lb" style="left:754.0px;top:2621.0px;letter-spacing:5.75px;">5.6.1.1.4</div><div id="m3f" class="t ks" style="left:934.0px;top:2622.0px;"><i style="width:38.3px">的</i><i style="width:38.3px">注</i></div><div id="m3g" class="t lb" style="left:1013.0px;top:2619.0px;">,</div><div id="m3h" class="t ks" style="left:1033.0px;top:2622.0px;"><i style="width:38.6px">应</i><i style="width:38.6px">至</i><i style="width:38.6px">少</i><i style="width:38.6px">旋</i><i style="width:38.6px">转</i><i style="width:38.6px">两</i><i style="width:38.6px">整</i><i style="width:38.6px">圈</i><i style="width:38.6px">进</i><i style="width:38.6px">行</i><i style="width:38.6px">检</i><i style="width:38.6px">验</i><i style="width:38.6px">。</i></div>
</body></html>
